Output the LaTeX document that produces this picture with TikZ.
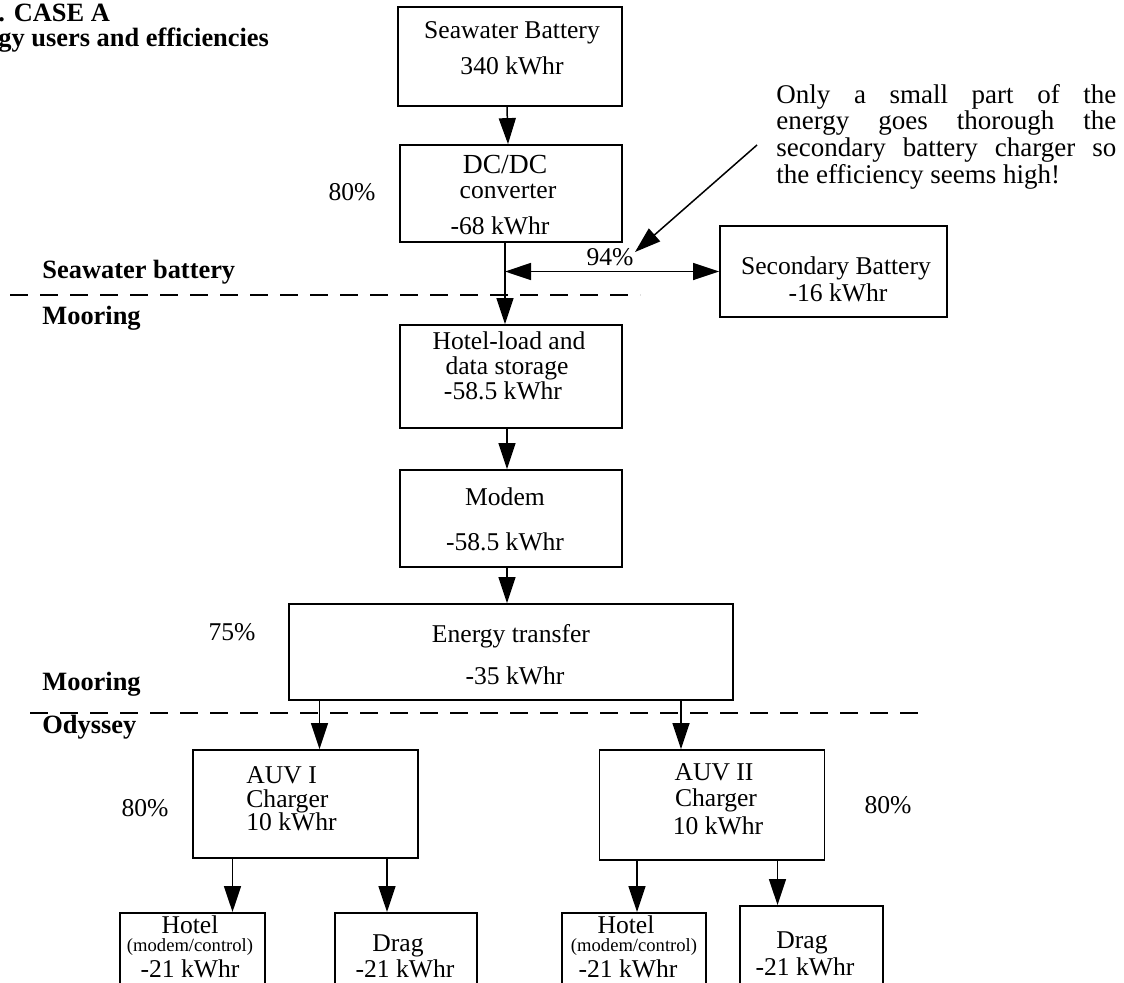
\documentclass[tikz,border=0pt]{standalone}
\usepackage{fontspec}
\setmainfont{Liberation Serif}
\usetikzlibrary{arrows.meta, positioning}
\tikzset{%
	box/.style={draw, rectangle, line width=0.9pt, inner sep=0pt},
	txt/.style={inner sep=0pt, font=\fontsize{12.8}{14}\selectfont},
	small/.style={inner sep=0pt, font=\fontsize{9.3}{11}\selectfont},
	zone/.style={inner sep=0pt, anchor=west, font=\bfseries\fontsize{13.2}{15}\selectfont},
	flow/.style={-{Triangle[width=8.5pt,length=13pt]}, line width=0.75pt},
	twoway/.style={{Triangle[width=8.5pt,length=13pt]}-{Triangle[width=8.5pt,length=13pt]}, line width=0.75pt},
	border/.style={dash pattern=on 9pt off 6pt, line width=0.8pt}
}

\begin{document}
\begin{tikzpicture}[x=0.5pt, y=-0.5pt]
	\clip (0,0) rectangle (1124,982);

	% title and zones
	\node[zone] (title1) at (-2,13) {. CASE A};
	\node[zone] (title2) at (-2,40) {gy users and efficiencies};
	\node[zone] (zsea)   at (42,272) {Seawater battery};
	\node[zone] (zmoor)  at (42,318) {Mooring};
	\node[zone] (zmoor2) at (42,684) {Mooring};
	\node[zone] (zody)   at (42,727) {Odyssey};

	\draw[border] (10,295) -- (640,295);
	\draw[border] (30,713) -- (925,713);

	% boxes
	\node[box, minimum width=112pt, minimum height=49.5pt] (sea)    at (510,56.5) {};
	\node[box, minimum width=111pt, minimum height=48.5pt] (dc)     at (511,193.5) {};
	\node[box, minimum width=111pt, minimum height=51.5pt] (hotel)  at (511,376.5) {};
	\node[box, minimum width=111pt, minimum height=48.5pt] (modem)  at (511,518.5) {};
	\node[box, minimum width=222pt, minimum height=48pt]   (energy) at (511,652) {};
	\node[box, minimum width=113.5pt, minimum height=45.5pt] (sec)  at (833.5,271.5) {};
	\node[box, minimum width=112.5pt, minimum height=54pt] (auvA)   at (305.5,804) {};
	\node[box, minimum width=112.5pt, minimum height=55pt] (auvB)   at (712,805) {};
	\node[box, anchor=north, minimum width=72.5pt, minimum height=50pt] (hotelA) at (192.5,912) {};
	\node[box, anchor=north, minimum width=71pt, minimum height=50pt]   (dragA)  at (406,912) {};
	\node[box, anchor=north, minimum width=72pt, minimum height=50pt]   (hotelB) at (634,912) {};
	\node[box, anchor=north, minimum width=71.5pt, minimum height=52pt] (dragB)  at (811.5,905) {};

	% texts
	\node[txt] (sea1) at (512,33) {Seawater Battery};
	\node[txt] (sea2) at (512,66) {340 kWhr};
	\node[txt, font=\fontsize{13.8}{14}\selectfont] (dc1) at (505,164) {DC/DC};
	\node[txt] (dc2) at (508,191) {converter};
	\node[txt] (dc3) at (500,226) {-68 kWhr};
	\node[txt] (ho1) at (509,341) {Hotel-load and};
	\node[txt] (ho2) at (507,368) {data storage};
	\node[txt] (ho3) at (503,391) {-58.5 kWhr};
	\node[txt] (mo1) at (505,497) {Modem};
	\node[txt] (mo2) at (505,542) {-58.5 kWhr};
	\node[txt] (en1) at (511,636) {Energy transfer};
	\node[txt] (en2) at (515,676) {-35 kWhr};
	\node[txt] (se1) at (836,268) {Secondary Battery};
	\node[txt] (se2) at (838,293) {-16 kWhr};
	\node[txt, anchor=west] (a1) at (246,775) {AUV I};
	\node[txt, anchor=west] (a2) at (246,801) {Charger};
	\node[txt, anchor=west] (a3) at (246,822) {10 kWhr};
	\node[txt] (b1) at (714,772) {AUV II};
	\node[txt] (b2) at (716,800) {Charger};
	\node[txt] (b3) at (718,826) {10 kWhr};
	\node[txt]   (ha1) at (190,925) {Hotel};
	\node[small] (ha2) at (190,947) {(modem/control)};
	\node[txt]   (ha3) at (190,969) {-21 kWhr};
	\node[txt]   (da1) at (398,946) {Drag};
	\node[txt]   (da2) at (405,969) {-21 kWhr};
	\node[txt]   (hb1) at (626,925) {Hotel};
	\node[small] (hb2) at (634,947) {(modem/control)};
	\node[txt]   (hb3) at (628,969) {-21 kWhr};
	\node[txt]   (db1) at (802,943) {Drag};
	\node[txt]   (db2) at (805,967) {-21 kWhr};

	% efficiencies
	\node[txt] (eff1) at (352,192) {80\%};
	\node[txt] (eff2) at (232,632) {75\%};
	\node[txt] (eff3) at (610,257) {94\%};
	\node[txt] (eff4) at (145,808) {80\%};
	\node[txt] (eff5) at (888,805) {80\%};

	% note
	\node[anchor=west, align=left, inner sep=0pt, font=\fontsize{13.5}{12.2}\selectfont] (note) at (776,136.5)
		{\makebox[170pt][s]{Only a small part of the}\\
		 \makebox[170pt][s]{energy goes thorough the}\\
		 \makebox[170pt][s]{secondary battery charger so}\\
		 the efficiency seems high!};
	\coordinate (tail) at (757,145);
	\coordinate (tip)  at (635,252);

	% connectors
	\draw[flow]   ([xshift=-1.5pt]sea.south) -- ([xshift=-1.5pt]dc.north);
	\draw[flow]   ([xshift=-3pt]dc.south) -- ([xshift=-3pt]hotel.north);
	\draw[twoway] ([xshift=-3pt]dc.south |- sec.west) -- (sec.west);
	\draw[flow]   (tail) -- (tip);
	\draw[flow]   ([xshift=-2pt]hotel.south) -- ([xshift=-2pt]modem.north);
	\draw[flow]   ([xshift=-2pt]modem.south) -- ([xshift=-2pt]energy.north);
	\draw[flow]   ([xshift=7pt]auvA.north |- energy.south) -- ([xshift=7pt]auvA.north);
	\draw[flow]   ([xshift=-15.5pt]auvB.north |- energy.south) -- ([xshift=-15.5pt]auvB.north);
	\draw[flow]   ([xshift=20pt]hotelA.north |- auvA.south) -- ([xshift=20pt]hotelA.north);
	\draw[flow]   ([xshift=-9.5pt]dragA.north |- auvA.south) -- ([xshift=-9.5pt]dragA.north);
	\draw[flow]   ([xshift=1.5pt]hotelB.north |- auvB.south) -- ([xshift=1.5pt]hotelB.north);
	\draw[flow]   ([xshift=-17pt]dragB.north |- auvB.south) -- ([xshift=-17pt]dragB.north);

\end{tikzpicture}
\end{document}
